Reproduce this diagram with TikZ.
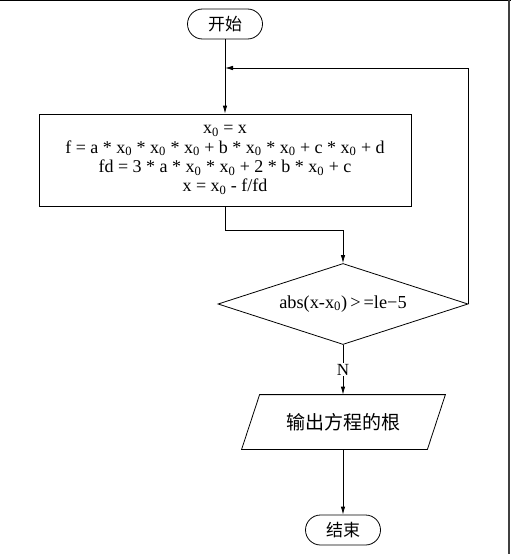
\documentclass[tikz,border=0pt]{standalone}
\usepackage{fontspec}
\setmainfont{Liberation Serif}
\newfontfamily\cjk{Noto Sans CJK SC}
\usetikzlibrary{shapes.geometric,arrows.meta,positioning}

\begin{document}
\begin{tikzpicture}[x=1pt,y=-1pt,line width=0.8pt,
	terminal/.style={draw,rectangle,rounded corners=15pt,minimum width=75pt,minimum height=30pt,inner sep=0pt,font=\cjk\fontsize{17}{17}\selectfont},
	process/.style={draw,rectangle,minimum width=372pt,minimum height=92pt,inner sep=0pt,align=center,font=\fontsize{18}{19.3}\selectfont},
	decision/.style={draw,diamond,aspect=3,minimum width=250pt,minimum height=81pt,inner sep=0pt,font=\fontsize{18.3}{19}\selectfont},
	io/.style={rectangle,minimum width=185pt,minimum height=54pt,inner sep=0pt,font=\cjk\fontsize{19}{19}\selectfont},
	arr/.style={-{Latex[length=8pt,width=4.5pt]}}]
\useasboundingbox (0,0) rectangle (511,554);
\draw[line width=1.5pt] (0,0.7) -- (511,0.7);
\draw[line width=1.6pt,black!75] (509,0) -- (509,554);
\node [terminal] (start) at (225,24) {开始};
\node [process] (calc) at (225,160) {x\textsubscript{0} = x\\
	f = a * x\textsubscript{0} * x\textsubscript{0} * x\textsubscript{0} + b * x\textsubscript{0} * x\textsubscript{0} + c * x\textsubscript{0} + d\\
	fd = 3 * a * x\textsubscript{0} * x\textsubscript{0} + 2 * b * x\textsubscript{0} + c\\
	x = x\textsubscript{0} - f/fd};
\node [decision] (judge) at (343,304) {abs(x-x\textsubscript{0})\,>\,=le−5};
\node [io] (out) at (343.5,422) {输出方程的根};
\draw ([xshift=9pt]out.north west) -- ([xshift=9pt]out.north east)
	-- ([xshift=-9pt]out.south east) -- ([xshift=-9pt]out.south west) -- cycle;
\node [terminal] (end) at (343,530) {结束};
\coordinate (merge) at (225,68);
\draw[arr] (start) -- (calc);
\draw[arr] (calc.south) -- ++(0,24) -| (judge.north);
\draw[arr] (judge.east) |- (merge);
\draw[arr] (judge.south) -- node [fill=white,inner sep=1pt,font=\fontsize{17}{17}\selectfont] {N} (judge.south |- out.north);
\draw[arr] (judge.south |- out.south) -- (end);
\end{tikzpicture}
\end{document}
